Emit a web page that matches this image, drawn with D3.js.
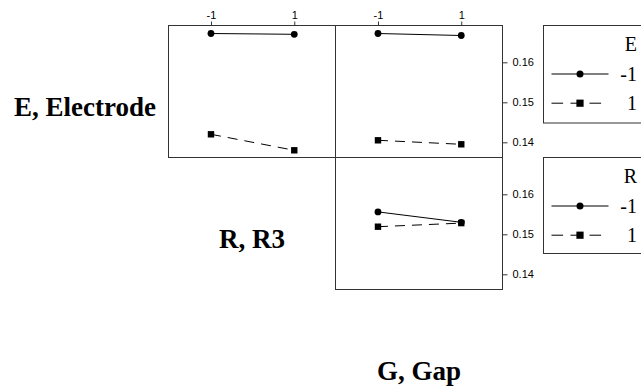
<!DOCTYPE html>
<html>
<head>
<meta charset="utf-8">
<script src="https://cdn.jsdelivr.net/npm/d3@7"></script>
<style>
  html, body { margin: 0; padding: 0; background: #fff; }
  svg { display: block; }
</style>
</head>
<body>
<svg id="chart" width="641" height="387"></svg>
<script>
// ---- data ----
const factors = ["E, Electrode", "R, R3", "G, Gap"];
const factorCodes = ["E", "R", "G"];
const levels = [-1, 1];
const levelLabels = ["-1", "1"];
const yTicks = [0.14, 0.15, 0.16];
// row E, column R : lines by E level, x = R level
const E_by_R_m1 = [0.1672, 0.1670];
const E_by_R_p1 = [0.1420, 0.1380];
// row E, column G : lines by E level, x = G level
const E_by_G_m1 = [0.1672, 0.1667];
const E_by_G_p1 = [0.1405, 0.1395];
// row R, column G : lines by R level, x = G level
const R_by_G_m1 = [0.1556, 0.1530];
const R_by_G_p1 = [0.1519, 0.1528];

const panels = [
  { row: 0, col: 1, series: [E_by_R_m1, E_by_R_p1] },
  { row: 0, col: 2, series: [E_by_G_m1, E_by_G_p1] },
  { row: 1, col: 2, series: [R_by_G_m1, R_by_G_p1] }
];

// ---- layout ----
const svg = d3.select("#chart");
const cellW = 167, cellH = 132;
const gridLeft = 1.5, gridTop = -106.5; // row 0 top = 25.5, col 1 left = 168.5
const colX = c => gridLeft + c * cellW;
const rowY = r => gridTop + (r + 1) * cellH;
const x = d3.scaleLinear().domain([-2.02, 1.99]).range([0, cellW]);
const y = d3.scaleLinear().domain([0.1362, 0.1692]).range([cellH, 0]);
const dash = "10,7";
const stroke = "#000";
const frame = "#333";

// row labels on the diagonal
factors.forEach((f, i) => {
  svg.append("text")
    .attr("x", colX(i) + cellW / 2)
    .attr("y", rowY(i) + 90.8)
    .attr("text-anchor", "middle")
    .style("font-family", "'Liberation Serif', 'Times New Roman', serif")
    .style("font-weight", "bold")
    .style("font-size", "27px")
    .text(f);
});

const tickFont = "'Liberation Sans', Arial, sans-serif";

panels.forEach(p => {
  const g = svg.append("g").attr("transform", `translate(${colX(p.col)},${rowY(p.row)})`);
  g.append("rect").attr("x", 0).attr("y", 0).attr("width", cellW).attr("height", cellH)
    .attr("fill", "none").attr("stroke", frame).attr("stroke-width", 1);

  if (p.row === 0) {
    const ax = d3.axisTop(x).tickValues(levels).tickSize(4).tickPadding(3)
      .tickFormat((d, i) => levelLabels[i]);
    const gx = g.append("g").call(ax);
    gx.select(".domain").remove();
    gx.selectAll("line").attr("stroke", frame);
    gx.selectAll("text").style("font-family", tickFont).style("font-size", "11px").attr("fill", "#000");
  }
  if (p.col === 2) {
    const ay = d3.axisRight(y).tickValues(yTicks).tickSize(5).tickPadding(5)
      .tickFormat(d3.format(".2f"));
    const gy = g.append("g").attr("transform", `translate(${cellW},0)`).call(ay);
    gy.select(".domain").remove();
    gy.selectAll("line").attr("stroke", frame);
    gy.selectAll("text").style("font-family", tickFont).style("font-size", "11px").attr("fill", "#000");
  }

  const line = d3.line().x((d, i) => x(levels[i])).y(d => y(d));
  p.series.forEach((s, si) => {
    g.append("path").datum(s).attr("d", line).attr("fill", "none")
      .attr("stroke", stroke).attr("stroke-width", 1)
      .attr("stroke-dasharray", si === 1 ? dash : null);
    s.forEach((v, i) => {
      if (si === 0) {
        g.append("circle").attr("cx", x(levels[i])).attr("cy", y(v)).attr("r", 3.4).attr("fill", "#000");
      } else {
        g.append("rect").attr("x", x(levels[i]) - 3.2).attr("y", y(v) - 3.2)
          .attr("width", 6.4).attr("height", 6.4).attr("fill", "#000");
      }
    });
  });
});

// legends
const legendFont = "'Liberation Serif', 'Times New Roman', serif";
[0, 1].forEach(r => {
  const top = rowY(r);
  const lg = svg.append("g").attr("transform", `translate(543.5,${top})`);
  lg.append("rect").attr("x", 0).attr("y", 0).attr("width", 130).attr("height", r === 0 ? 97.5 : 96)
    .attr("fill", "none").attr("stroke", frame).attr("stroke-width", 1);
  lg.append("text").attr("x", 93.5).attr("y", 25.6).attr("text-anchor", "end")
    .style("font-family", legendFont).style("font-size", "20px").text(factorCodes[r]);
  levels.forEach((lv, i) => {
    const ly = 48.5 + i * 29.2;
    lg.append("line").attr("x1", 8).attr("x2", 65).attr("y1", ly).attr("y2", ly)
      .attr("stroke", stroke).attr("stroke-width", 1)
      .attr("stroke-dasharray", i === 1 ? "11.6,7.4" : null);
    if (i === 0) {
      lg.append("circle").attr("cx", 36.5).attr("cy", ly).attr("r", 3.5).attr("fill", "#000");
    } else {
      lg.append("rect").attr("x", 36.5 - 3.6).attr("y", ly - 3.6).attr("width", 7.2).attr("height", 7.2).attr("fill", "#000");
    }
    lg.append("text").attr("x", 93.5).attr("y", ly + 6.6).attr("text-anchor", "end")
      .style("font-family", legendFont).style("font-size", "20px").text(levelLabels[i]);
  });
});
</script>
</body>
</html>
